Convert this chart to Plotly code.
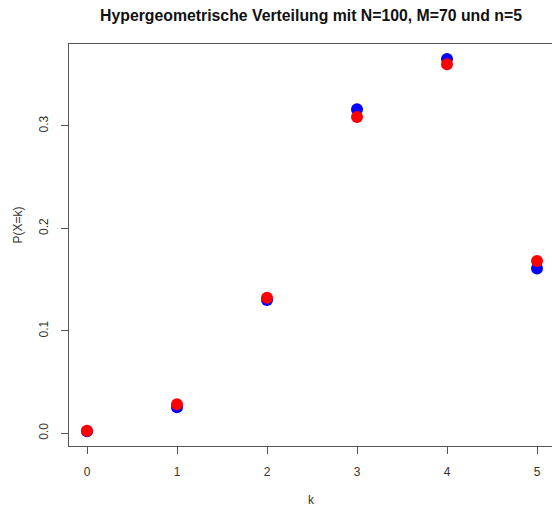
import plotly.graph_objects as go

k = [0, 1, 2, 3, 4, 5]
p_hyper = [0.0019, 0.0255, 0.1302, 0.3163, 0.3654, 0.1608]
p_binom = [0.0024, 0.0284, 0.1323, 0.3087, 0.3602, 0.1681]
x_ticks = [0, 1, 2, 3, 4, 5]
y_ticks = [0.0, 0.1, 0.2, 0.3]
y_tick_labels = ["0.0", "0.1", "0.2", "0.3"]

W, H = 552, 507
L, T, B = 69, 44, 61
plot_w = W - L
unit = 90.0
x0 = -0.2
x1 = x0 + plot_w / unit

fig = go.Figure()
fig.add_trace(go.Scatter(x=k, y=p_hyper, mode="markers",
                         marker=dict(color="#0000FF", size=12, line=dict(width=0)),
                         showlegend=False))
fig.add_trace(go.Scatter(x=k, y=p_binom, mode="markers",
                         marker=dict(color="#FF0000", size=12, line=dict(width=0)),
                         showlegend=False))

axis_col = "#555555"
font = dict(family="Liberation Sans, Arial, sans-serif", size=12, color="#333333")

fig.update_layout(
    width=W, height=H,
    margin=dict(l=L, r=0, t=T, b=B),
    paper_bgcolor="white", plot_bgcolor="white",
    font=font,
    title=dict(text="<b>Hypergeometrische Verteilung mit N=100, M=70 und n=5</b>",
               x=311 / W, xanchor="center", y=1 - 15 / H, yanchor="middle",
               font=dict(family="Liberation Sans, Arial, sans-serif", size=15.8, color="#111111")),
    xaxis=dict(range=[x0, x1], tickvals=x_ticks, ticktext=[str(v) for v in x_ticks],
               showgrid=False, zeroline=False, showline=True, linecolor=axis_col,
               linewidth=1, mirror=True, ticks="outside", ticklen=7, tickcolor=axis_col,
               ticklabelstandoff=8),
    yaxis=dict(range=[-0.0124, 0.380], tickvals=y_ticks, ticktext=y_tick_labels,
               showgrid=False, zeroline=False, showline=True, linecolor=axis_col,
               linewidth=1, ticks="outside", ticklen=7, tickcolor=axis_col,
               tickangle=-90, ticklabelstandoff=8),
)

fig.add_annotation(text="k", xref="paper", yref="paper",
                   x=(311 - L) / plot_w, y=-(500 - 446) / (H - T - B),
                   showarrow=False, xanchor="center", yanchor="middle",
                   font=font)
fig.add_annotation(text="P(X=k)", xref="paper", yref="paper",
                   x=-(L - 17.5) / plot_w, y=(446 - 225) / (H - T - B),
                   showarrow=False, xanchor="center", yanchor="middle",
                   textangle=-90, font=font)

fig.write_html("out.html")
